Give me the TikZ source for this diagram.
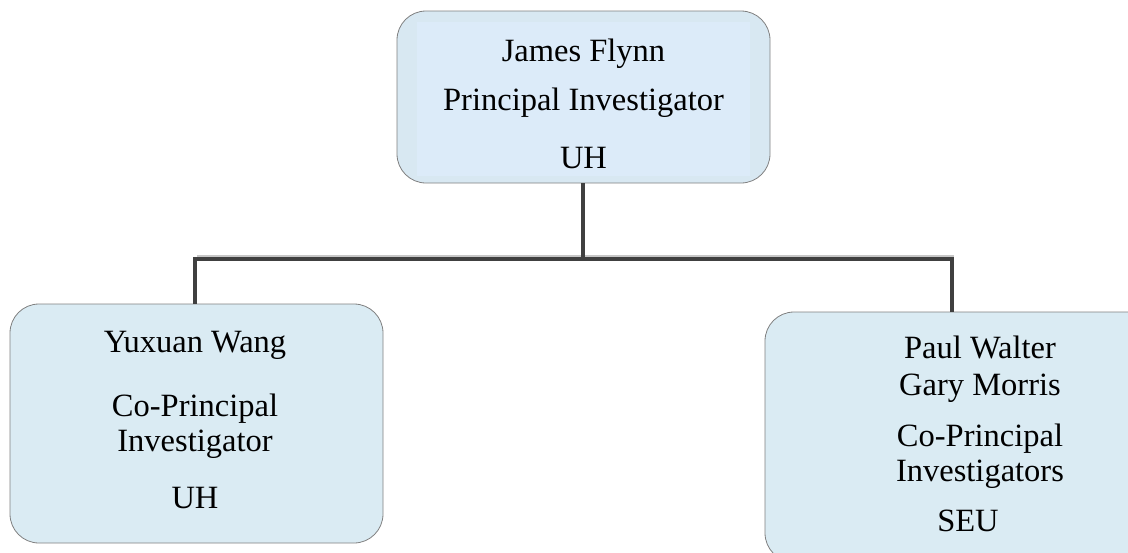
\documentclass[tikz,border=0pt]{standalone}
\usepackage{fontspec}
\setmainfont{Liberation Serif}
\begin{document}
\begin{tikzpicture}[x=1pt,y=-1pt,
  box/.style={draw=black!50, line width=0.8pt, rounded corners=29pt, fill=boxfill},
  txt/.style={anchor=base, inner sep=0pt, font=\fontsize{32.5}{38}\selectfont},
  wire/.style={draw=wirec, line width=3.6pt},
  wireshadow/.style={draw=black!22, line width=4pt},
]
\definecolor{boxfill}{HTML}{DAEBF3}
\definecolor{topfill}{HTML}{D8E8F2}
\definecolor{topinner}{HTML}{DCEBF9}
\definecolor{wirec}{HTML}{404040}
\useasboundingbox (0,0) rectangle (1128,552);
\clip (0,0) rectangle (1128,552);
% boxes
\node[box, fill=topfill, minimum width=373pt, minimum height=172pt] (top) at (583.5,97) {};
\fill[topinner] ([xshift=20pt,yshift=-11pt]top.north west) rectangle ([xshift=-20pt,yshift=7pt]top.south east);
\node[box, minimum width=373pt, minimum height=239pt] (left) at (196.5,423.5) {};
\node[box, minimum width=430pt, minimum height=250pt] (right) at (980,437) {};
% texts
\node[txt] (t1) at (583.5,61) {James Flynn};
\node[txt] (t2) at (583.5,110) {Principal Investigator};
\node[txt] (t3) at (583.5,168) {UH};
\node[txt] (l1) at (195,352) {Yuxuan Wang};
\node[txt] (l2) at (195,416.5) {Co-Principal};
\node[txt] (l3) at (195,451.5) {Investigator};
\node[txt] (l4) at (195,508.5) {UH};
\node[txt] (r1) at (980,358) {Paul Walter};
\node[txt] (r2) at (980,395) {Gary Morris};
\node[txt] (r3) at (980,446.5) {Co-Principal};
\node[txt] (r4) at (980,481.5) {Investigators};
\node[txt] (r5) at (968,531.5) {SEU};
% connectors
\coordinate (busL) at (195,259);
\coordinate (busR) at (952,259);
\coordinate (busM) at (583,259);
\draw[wireshadow] ([xshift=2pt,yshift=2pt]busL) -- ([xshift=2pt,yshift=2pt]busR);
\draw[wire] (top.south -| busM) -- (busM);
\draw[wire] (busL |- left.north) -- (busL) -- (busR) -- (busR |- right.north);
\end{tikzpicture}
\end{document}
